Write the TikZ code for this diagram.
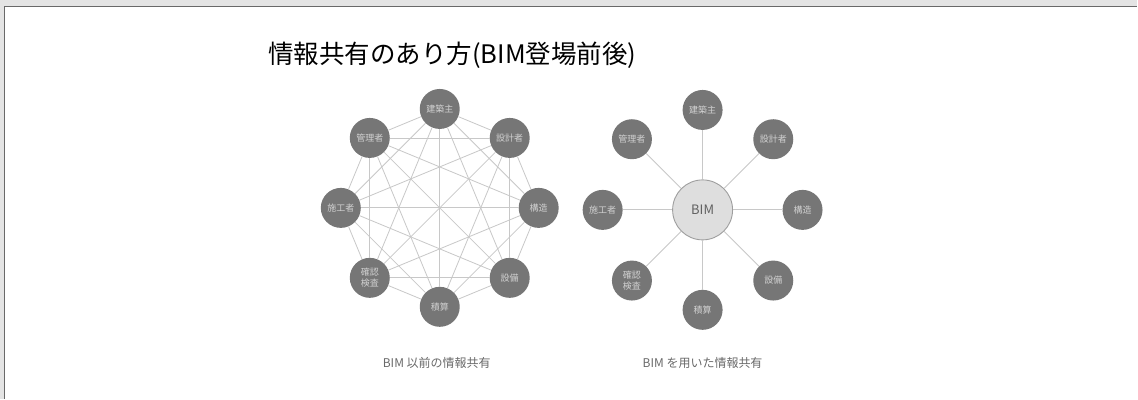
\documentclass[tikz,border=0pt]{standalone}
\usepackage{fontspec}
\setmainfont{Noto Sans CJK JP}
\usetikzlibrary{calc}
\definecolor{pagegray}{RGB}{228,228,228}
\definecolor{rimgray}{RGB}{105,105,105}
\definecolor{partygray}{RGB}{118,118,118}
\definecolor{hubgray}{RGB}{222,222,222}
\definecolor{linkgray}{RGB}{200,200,200}
\definecolor{captiongray}{RGB}{105,105,105}
\tikzstyle{party}=[circle,fill=partygray,minimum size=40pt,inner sep=0pt,text=white!82!black,font=\fontsize{9}{11}\selectfont,align=center]
\tikzstyle{hub}=[circle,fill=hubgray,draw=black!38,line width=0.9pt,minimum size=60pt,inner sep=0pt,text=black!62,font=\fontsize{13}{15}\selectfont]
\tikzstyle{link}=[draw=linkgray,line width=0.8pt]
\tikzstyle{caption}=[text=captiongray,font=\fontsize{12}{14}\selectfont]

\begin{document}
\begin{tikzpicture}[x=1pt,y=-1pt]
  % page and frame
  \fill[pagegray] (0,0) rectangle (1138,399);
  \fill[white] (5,7) rectangle (1138,399);
  \draw[rimgray,line width=1.3pt] (4.6,399) -- (4.6,6.6) -- (1138,6.6);
  \useasboundingbox (0,0) rectangle (1138,399);

  \node[anchor=west,font=\fontsize{25.5}{28}\selectfont] (title) at (265,55) {情報共有のあり方(BIM登場前後)};

  % before BIM: everyone talks to everyone
  \foreach \n/\ang/\txt in {1/270/建築主,2/315/設計者,3/0/構造,4/45/設備,5/90/積算,6/135/確認\\検査,7/180/施工者,8/225/管理者}
    \node[party] (a\n) at ($(440,208)+(\ang:99)$) {\txt};
  \foreach \i in {1,...,7} {
    \pgfmathtruncatemacro\k{\i+1}
    \foreach \j in {\k,...,8}
      \draw[link] (a\i) -- (a\j);
  }
  \node[caption] (capa) at (437,363) {BIM 以前の情報共有};

  % with BIM: one shared hub
  \node[hub] (bim) at (703,210) {BIM};
  \foreach \n/\ang/\txt in {1/270/建築主,2/315/設計者,3/0/構造,4/45/設備,5/90/積算,6/135/確認\\検査,7/180/施工者,8/225/管理者} {
    \node[party] (b\n) at ($(bim)+(\ang:100)$) {\txt};
    \draw[link] (bim) -- (b\n);
  }
  \node[caption] (capb) at (703,363) {BIM を用いた情報共有};
\end{tikzpicture}
\end{document}
